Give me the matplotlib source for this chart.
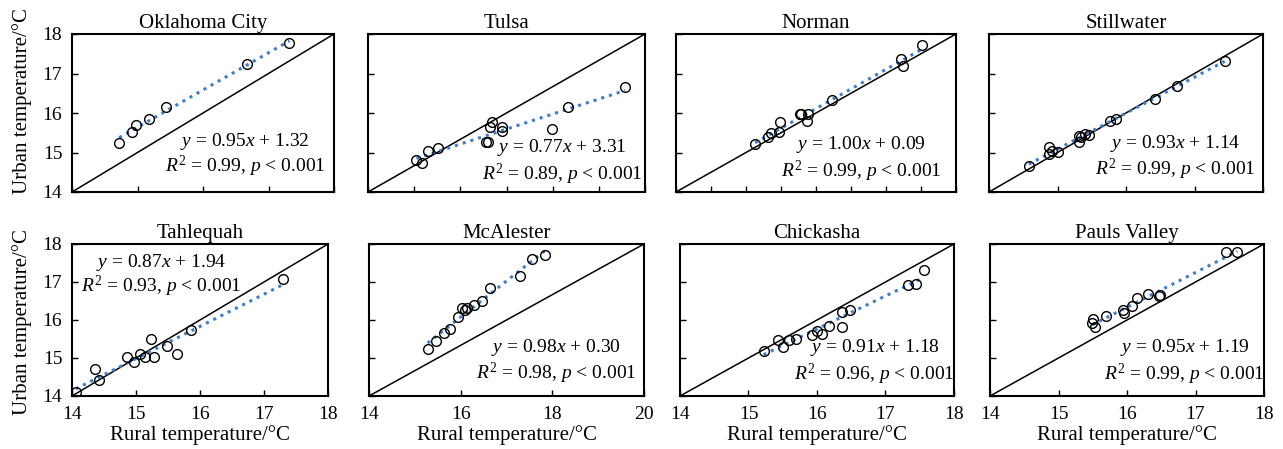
import numpy as np
import matplotlib
matplotlib.use('Agg')
import matplotlib.pyplot as plt

# fontes no estilo Times
plt.rcParams['font.family'] = 'Liberation Serif'
plt.rcParams['mathtext.fontset'] = 'custom'
plt.rcParams['mathtext.rm'] = 'Liberation Serif'
plt.rcParams['mathtext.it'] = 'Liberation Serif:italic'

# dados (rural, urbano) em graus C
okc_rural = [14.72, 14.91, 14.97, 15.18, 15.44, 16.67, 17.32]
okc_urban = [15.25, 15.52, 15.69, 15.84, 16.14, 17.23, 17.78]

tulsa_rural = [15.05, 15.18, 15.31, 15.51, 16.55, 16.61, 16.64, 16.69, 16.91, 16.91, 17.99, 18.34, 19.57]
tulsa_urban = [14.82, 14.74, 15.04, 15.12, 15.27, 15.27, 15.64, 15.77, 15.64, 15.55, 15.60, 16.16, 16.67]

norman_rural = [15.13, 15.32, 15.36, 15.47, 15.48, 15.77, 15.79, 15.88, 15.87, 16.23, 17.21, 17.24, 17.52]
norman_urban = [15.22, 15.40, 15.50, 15.52, 15.76, 15.97, 15.97, 15.97, 15.81, 16.32, 17.36, 17.19, 17.73]

still_rural = [14.58, 14.87, 14.88, 14.92, 15.00, 15.31, 15.32, 15.34, 15.40, 15.46, 15.76, 15.85, 16.43, 16.74, 17.44]
still_urban = [14.65, 15.13, 14.97, 15.04, 15.01, 15.43, 15.27, 15.40, 15.48, 15.45, 15.81, 15.84, 16.36, 16.69, 17.32]

tahl_rural = [14.06, 14.36, 14.42, 14.86, 14.97, 15.07, 15.14, 15.24, 15.28, 15.48, 15.64, 15.86, 17.29]
tahl_urban = [14.11, 14.71, 14.43, 15.02, 14.90, 15.11, 15.02, 15.50, 15.02, 15.32, 15.10, 15.74, 17.08]

mcal_rural = [15.28, 15.46, 15.63, 15.76, 15.95, 16.04, 16.09, 16.14, 16.28, 16.47, 16.65, 17.30, 17.55, 17.85]
mcal_urban = [15.23, 15.45, 15.66, 15.77, 16.08, 16.31, 16.27, 16.32, 16.40, 16.51, 16.84, 17.15, 17.61, 17.70]

chick_rural = [15.22, 15.43, 15.51, 15.59, 15.70, 15.92, 16.00, 16.07, 16.18, 16.37, 16.36, 16.48, 17.33, 17.44, 17.56]
chick_urban = [15.19, 15.48, 15.28, 15.47, 15.51, 15.60, 15.72, 15.64, 15.84, 15.82, 16.20, 16.26, 16.93, 16.95, 17.32]

pauls_rural = [15.49, 15.50, 15.54, 15.70, 15.94, 15.96, 16.08, 16.14, 16.31, 16.48, 16.47, 17.45, 17.61]
pauls_urban = [15.92, 16.03, 15.82, 16.10, 16.27, 16.18, 16.37, 16.57, 16.68, 16.66, 16.64, 17.78, 17.79]

titulos = ['Oklahoma City', 'Tulsa', 'Norman', 'Stillwater',
           'Tahlequah', 'McAlester', 'Chickasha', 'Pauls Valley']
rurais = [okc_rural, tulsa_rural, norman_rural, still_rural,
          tahl_rural, mcal_rural, chick_rural, pauls_rural]
urbanos = [okc_urban, tulsa_urban, norman_urban, still_urban,
           tahl_urban, mcal_urban, chick_urban, pauls_urban]
equacoes = ['$y$ = 0.95$x$ + 1.32', '$y$ = 0.77$x$ + 3.31', '$y$ = 1.00$x$ + 0.09', '$y$ = 0.93$x$ + 1.14',
            '$y$ = 0.87$x$ + 1.94', '$y$ = 0.98$x$ + 0.30', '$y$ = 0.91$x$ + 1.18', '$y$ = 0.95$x$ + 1.19']
r2 = ['0.99', '0.89', '0.99', '0.99', '0.93', '0.98', '0.96', '0.99']
x_max = [18, 20, 18, 18, 18, 20, 18, 18]
passo = [1, 1, 0.5, 1, 1, 2, 1, 1]

# posicoes em pixels (esq, dir, topo, base) de cada painel
W, H = 1283, 449
caixas = [(72, 334, 34, 192), (368, 645, 34, 192), (676, 956, 34, 192), (989, 1263, 34, 192),
          (72, 328, 244, 396), (369, 644, 244, 396), (680, 954, 244, 396), (990, 1264, 244, 396)]
# posicao do texto da equacao (fracao do eixo)
pos_texto = [(0.66, 0.32, 0.16), (0.70, 0.28, 0.11), (0.66, 0.30, 0.13), (0.68, 0.31, 0.145),
             (0.35, 0.88, 0.72), (0.68, 0.32, 0.15), (0.71, 0.32, 0.145), (0.71, 0.32, 0.145)]

fig = plt.figure(figsize=(W / 100, H / 100), dpi=100)

for i in range(8):
    e, d, t, b = caixas[i]
    ax = fig.add_axes([e / W, 1 - b / H, (d - e) / W, (b - t) / H])

    x = np.array(rurais[i])
    y = np.array(urbanos[i])

    ax.set_xlim(14, x_max[i])
    ax.set_ylim(14, 18)

    # linha 1:1 (canto a canto)
    ax.plot([0, 1], [0, 1], transform=ax.transAxes, color='black', lw=1.1, zorder=1)

    # reta ajustada pontilhada
    a, c = np.polyfit(x, y, 1)
    xr = np.array([x.min(), x.max()])
    ax.plot(xr, a * xr + c, ls=':', color='#3f7ccc', lw=2.2, zorder=2)

    ax.plot(x, y, 'o', mfc='none', mec='black', ms=7, mew=1.0, zorder=3)

    px, py1, py2 = pos_texto[i]
    ax.text(px, py1, equacoes[i], transform=ax.transAxes, ha='center', va='center', fontsize=14)
    ax.text(px, py2, '$R^{\\mathrm{2}}$ = ' + r2[i] + ', $p$ < 0.001',
            transform=ax.transAxes, ha='center', va='center', fontsize=14)

    ax.set_title(titulos[i], fontsize=15, pad=4)

    ax.set_xticks(np.arange(14, x_max[i] + 0.01, passo[i]))
    ax.set_yticks([14, 15, 16, 17, 18])
    ax.tick_params(direction='in', length=4, width=1, labelsize=14, pad=7)

    if i < 4:
        ax.tick_params(labelbottom=False)
    else:
        ax.set_xlabel('Rural temperature/°C', fontsize=15, labelpad=2)
    if i % 4 != 0:
        ax.tick_params(labelleft=False)

    for s in ax.spines.values():
        s.set_linewidth(1.5)

fig.text(0.017, 0.775, 'Urban temperature/°C', rotation=90, ha='center', va='center', fontsize=15)
fig.text(0.017, 0.283, 'Urban temperature/°C', rotation=90, ha='center', va='center', fontsize=15)

fig.savefig('out.png', dpi=100)
